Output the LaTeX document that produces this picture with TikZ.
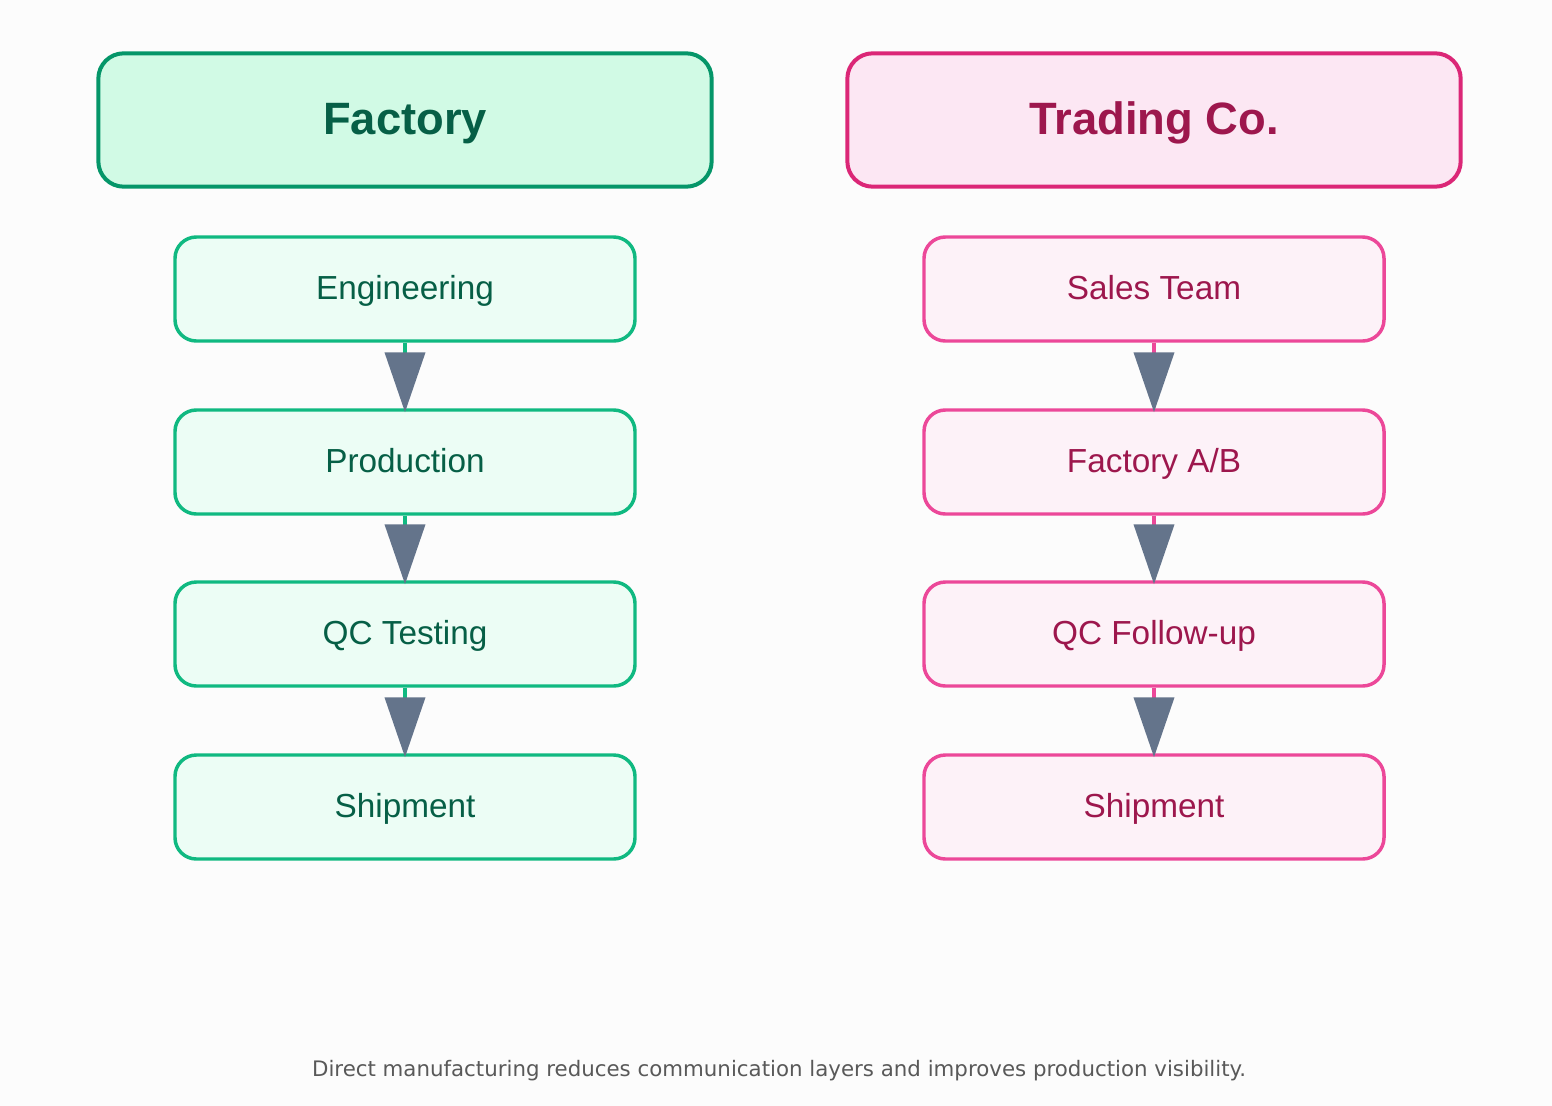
\documentclass[tikz,border=0pt]{standalone}
\usepackage{fontspec}
\setmainfont{Liberation Sans}
\newfontfamily\notefont{DejaVu Sans}
\usetikzlibrary{arrows.meta}
\definecolor{bgc}{HTML}{FCFCFC}
\definecolor{gHeadFill}{HTML}{D1FAE5}
\definecolor{gHeadLine}{HTML}{059669}
\definecolor{gText}{HTML}{065F46}
\definecolor{gFill}{HTML}{ECFDF5}
\definecolor{gLine}{HTML}{10B981}
\definecolor{pHeadFill}{HTML}{FCE7F3}
\definecolor{pHeadLine}{HTML}{DB2777}
\definecolor{pText}{HTML}{9D174D}
\definecolor{pFill}{HTML}{FDF2F8}
\definecolor{pLine}{HTML}{EC4899}
\definecolor{slate}{HTML}{64748B}
\tikzset{
  head/.style={draw, line width=3pt, rounded corners=19pt, minimum width=460pt,
    minimum height=100pt, text height=24pt, text depth=2pt,
    font=\fontsize{34}{40}\selectfont\bfseries},
  stage/.style={draw, line width=2.6pt, rounded corners=16pt, minimum width=345pt,
    minimum height=78pt, text height=18pt, text depth=2pt,
    font=\fontsize{25}{30}\selectfont},
  flow/.style={line width=3pt, -{Triangle[length=45pt,width=30pt,color=slate]}, shorten >=-3pt}
}
\begin{document}
\begin{tikzpicture}[x=0.75pt,y=-0.75pt]
  \fill[bgc] (0,0) rectangle (1552,1106);
  \useasboundingbox (0,0) rectangle (1552,1106);
  % factory column
  \node[head, fill=gHeadFill, draw=gHeadLine, text=gText] (factory) at (405,120) {Factory};
  \foreach \name/\txt/\y in {fa/Engineering/289,fb/Production/462,fc/QC Testing/634,fd/Shipment/807}{
    \node[stage, fill=gFill, draw=gLine, text=gText] (\name) at (405,\y) {\txt};
  }
  \draw[flow, gLine] (fa.south) -- (fb.north);
  \draw[flow, gLine] (fb.south) -- (fc.north);
  \draw[flow, gLine] (fc.south) -- (fd.north);
  % trading column
  \node[head, fill=pHeadFill, draw=pHeadLine, text=pText] (trading) at (1154,120) {Trading Co.};
  \foreach \name/\txt/\y in {ta/Sales Team/289,tb/Factory A\slash B/462,tc/QC Follow-up/634,td/Shipment/807}{
    \node[stage, fill=pFill, draw=pLine, text=pText] (\name) at (1154,\y) {\txt};
  }
  \draw[flow, pLine] (ta.south) -- (tb.north);
  \draw[flow, pLine] (tb.south) -- (tc.north);
  \draw[flow, pLine] (tc.south) -- (td.north);
  \node[text=black!65, font=\notefont\fontsize{16}{20}\selectfont] (note) at (779,1071)
    {Direct manufacturing reduces communication layers and improves production visibility.};
\end{tikzpicture}
\end{document}
